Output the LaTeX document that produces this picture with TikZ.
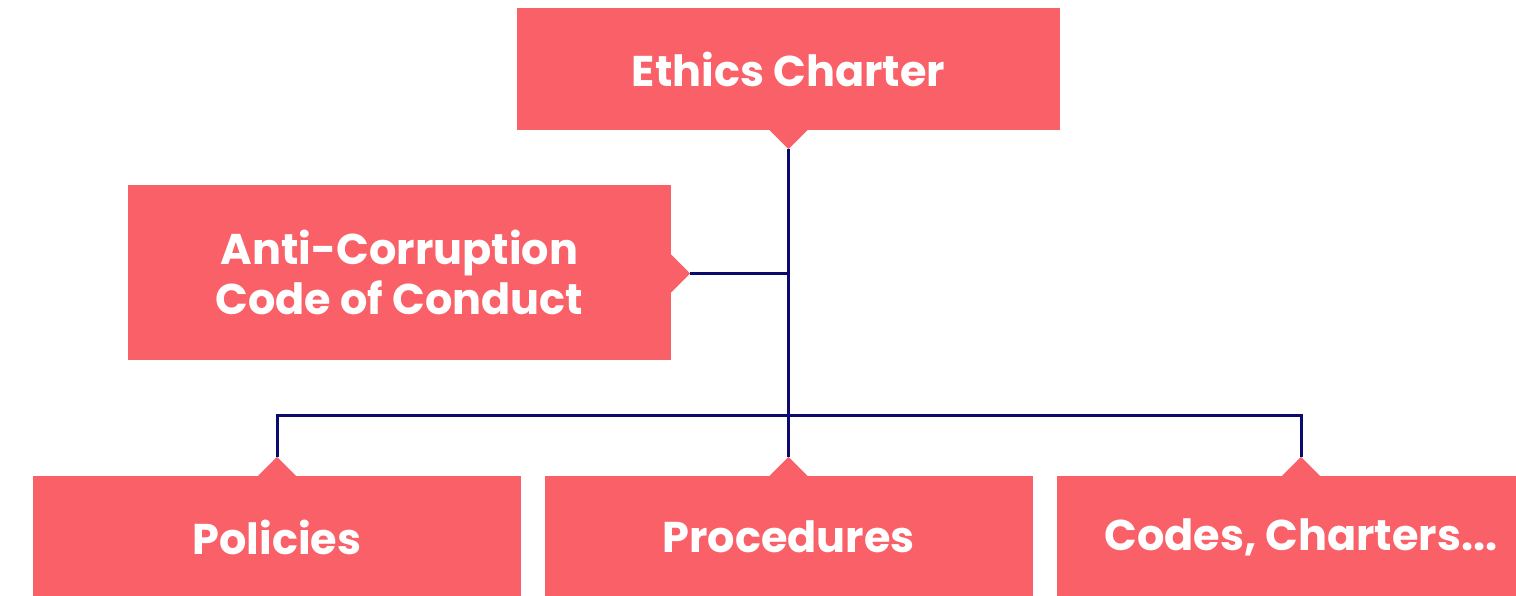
\documentclass[tikz,border=0pt]{standalone}
\usepackage{fontspec}
\setmainfont{Poppins}
\definecolor{coral}{RGB}{249,96,104}
\definecolor{navy}{RGB}{12,10,110}
\begin{document}
\begin{tikzpicture}[x=1pt,y=1pt,
  box/.style={fill=coral, text=white, font=\bfseries\fontsize{43}{50}\selectfont,
    align=center, inner sep=0pt, minimum height=122pt},
  notch/.style={fill=coral},
  link/.style={draw=navy, line width=3pt}]
\useasboundingbox (0,0) rectangle (1516,596);
\clip (0,0) rectangle (1516,596);
\node[box, minimum width=543pt] (ethics) at (788.5,527) {Ethics Charter};
\node[box, minimum width=543pt, minimum height=175pt] (anti) at (399.5,323.5) {Anti-Corruption\\Code of Conduct};
\node[box, minimum width=488pt] (pol) at (277,59) {Policies};
\node[box, minimum width=488pt] (proc) at (788.5,59) {Procedures};
\node[box, minimum width=488pt] (codes) at (1301,59) {Codes, Charters...};
% notches
\coordinate (etip) at ([yshift=-19pt]ethics.south);
\coordinate (atip) at ([xshift=19pt,yshift=-1pt]anti.east);
\coordinate (ptip) at ([yshift=19pt]pol.north);
\coordinate (rtip) at ([yshift=19pt]proc.north);
\coordinate (ctip) at ([yshift=19pt]codes.north);
\fill[notch] ([xshift=-19pt]ethics.south) -- (etip) -- ([xshift=19pt]ethics.south) -- cycle;
\fill[notch] ([yshift=-20pt]anti.east) -- (atip) -- ([yshift=18pt]anti.east) -- cycle;
\fill[notch] ([xshift=-19pt]pol.north) -- (ptip) -- ([xshift=19pt]pol.north) -- cycle;
\fill[notch] ([xshift=-19pt]proc.north) -- (rtip) -- ([xshift=19pt]proc.north) -- cycle;
\fill[notch] ([xshift=-19pt]codes.north) -- (ctip) -- ([xshift=19pt]codes.north) -- cycle;
% connectors
\coordinate (j) at (788.5,180);
\draw[link] (etip) -- (rtip);
\draw[link] (atip) -- (atip -| etip);
\draw[link] (ptip) -- (ptip |- j) -- (ctip |- j) -- (ctip);
\end{tikzpicture}
\end{document}
